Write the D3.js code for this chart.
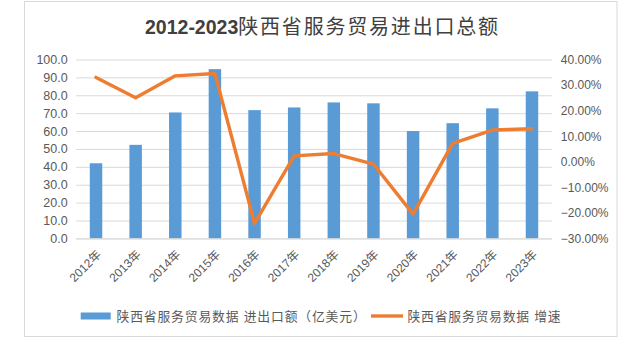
<!DOCTYPE html>
<html>
<head>
<meta charset="utf-8">
<script src="https://cdn.jsdelivr.net/npm/d3@7"></script>
<style>
  html, body { margin: 0; padding: 0; background: #fff; }
  svg { display: block; }
  text { font-family: "Liberation Sans", "Noto Sans CJK SC", sans-serif; }
</style>
</head>
<body>
<svg id="chart" width="640" height="344"></svg>
<script>
// 陕西省服务贸易：进出口额（亿美元）与增速（%）
const years = ["2012年", "2013年", "2014年", "2015年", "2016年", "2017年",
               "2018年", "2019年", "2020年", "2021年", "2022年", "2023年"];
const tradeValues = [42.0, 52.3, 70.4, 94.6, 71.7, 73.2, 76.0, 75.5, 60.0, 64.4, 72.7, 82.2];
const growthRates = [33.0, 25.0, 33.6, 34.5, -24.1, 2.3, 3.2, -0.9, -20.5, 7.2, 12.4, 12.9];
const leftTicks = [0, 10, 20, 30, 40, 50, 60, 70, 80, 90, 100];
const rightTicks = [-30, -20, -10, 0, 10, 20, 30, 40];
const titleYears = "2012-2023";
const titleText = "陕西省服务贸易进出口总额";
const legendBar = "陕西省服务贸易数据 进出口额（亿美元）";
const legendLine = "陕西省服务贸易数据 增速";

const svg = d3.select("#chart");
const plot = { left: 76.2, right: 551.8, top: 59.5, bottom: 238.4 };
const axisColor = "#595959";
const gridColor = "#d9d9d9";
const barColor = "#5b9bd5";
const lineColor = "#ed7d31";

// outer chart frame
svg.append("rect")
  .attr("x", 24.5).attr("y", 1.5)
  .attr("width", 592.5).attr("height", 335)
  .attr("fill", "#fff").attr("stroke", "#d9d9d9").attr("stroke-width", 1);

// title
const title = svg.append("text")
  .attr("x", 145).attr("y", 34)
  .attr("fill", "#404040");
title.append("tspan").text(titleYears)
  .attr("font-size", 19.5).attr("font-weight", "bold");
title.append("tspan").text(titleText)
  .attr("font-size", 20).attr("letter-spacing", 1.8)
  .attr("font-family", "'Noto Sans CJK SC', sans-serif");

// scales
const x = d3.scaleBand().domain(years).range([plot.left, plot.right]).padding(0);
const yL = d3.scaleLinear().domain([0, 100]).range([plot.bottom, plot.top]);
const yR = d3.scaleLinear().domain([-30, 40]).range([plot.bottom, plot.top]);
const barW = x.bandwidth() * 0.315;

// horizontal gridlines from the left axis
const leftAxis = d3.axisLeft(yL).tickValues(leftTicks)
  .tickSize(-(plot.right - plot.left)).tickPadding(8)
  .tickFormat(d3.format(".1f"));
const gL = svg.append("g")
  .attr("transform", `translate(${plot.left},0)`)
  .call(leftAxis);
gL.select(".domain").remove();
gL.selectAll(".tick line").attr("stroke", gridColor).attr("stroke-width", 1);
gL.selectAll(".tick text")
  .attr("fill", axisColor).attr("font-size", 12.5).attr("x", -8.5);

// right axis labels
const rightAxis = d3.axisRight(yR).tickValues(rightTicks)
  .tickSize(0).tickPadding(9)
  .tickFormat(d => d3.format(".2f")(d) + "%");
const gR = svg.append("g")
  .attr("transform", `translate(${plot.right},0)`)
  .call(rightAxis);
gR.select(".domain").remove();
gR.selectAll(".tick text").attr("fill", axisColor).attr("font-size", 12);

// bars
svg.append("g").selectAll("rect")
  .data(years.map((y, i) => ({ year: y, value: tradeValues[i] })))
  .join("rect")
  .attr("x", d => x(d.year) + x.bandwidth() / 2 - barW / 2)
  .attr("y", d => yL(d.value))
  .attr("width", barW)
  .attr("height", d => yL(0) - yL(d.value))
  .attr("fill", barColor);

// baseline
svg.append("line")
  .attr("x1", plot.left).attr("x2", plot.right)
  .attr("y1", yL(0) + 0.5).attr("y2", yL(0) + 0.5)
  .attr("stroke", gridColor).attr("stroke-width", 1);

// growth line
const line = d3.line()
  .x((d, i) => x(years[i]) + x.bandwidth() / 2)
  .y(d => yR(d));
svg.append("path")
  .datum(growthRates)
  .attr("d", line)
  .attr("fill", "none")
  .attr("stroke", lineColor)
  .attr("stroke-width", 3.4)
  .attr("stroke-linejoin", "round")
  .attr("stroke-linecap", "round");

// x axis labels, rotated
const gX = svg.append("g")
  .attr("transform", `translate(0,${plot.bottom})`)
  .call(d3.axisBottom(x).tickSize(0).tickPadding(0));
gX.select(".domain").remove();
gX.selectAll(".tick text")
  .attr("fill", axisColor).attr("font-size", 12)
  .attr("text-anchor", "end")
  .attr("dy", "0.35em")
  .attr("transform", "translate(3,14) rotate(-45)");

// legend
const lg = svg.append("g");
lg.append("rect")
  .attr("x", 80.7).attr("y", 312.5).attr("width", 30).attr("height", 7)
  .attr("fill", barColor);
lg.append("text")
  .attr("x", 116.5).attr("y", 320.5)
  .attr("font-size", 12.8).attr("fill", axisColor)
  .attr("letter-spacing", 0.85)
  .attr("font-family", "'Noto Sans CJK SC', sans-serif")
  .text(legendBar);
lg.append("line")
  .attr("x1", 371).attr("x2", 403).attr("y1", 316).attr("y2", 316)
  .attr("stroke", lineColor).attr("stroke-width", 3.4);
lg.append("text")
  .attr("x", 407.5).attr("y", 320.5)
  .attr("font-size", 12.8).attr("fill", axisColor)
  .attr("letter-spacing", 0.8)
  .attr("font-family", "'Noto Sans CJK SC', sans-serif")
  .text(legendLine);
</script>
</body>
</html>
